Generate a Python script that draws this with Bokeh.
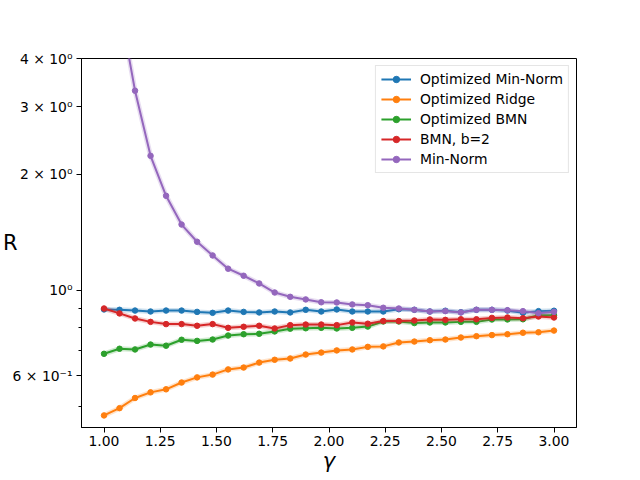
import numpy as np
from bokeh.plotting import figure
from bokeh.models import Range1d, FixedTicker, CustomJSTickFormatter, PrintfTickFormatter
from bokeh.embed import file_html
from bokeh.resources import INLINE

gamma = np.linspace(1.0, 3.0, 30)

opt_min_norm = [0.893, 0.891, 0.887, 0.882, 0.887, 0.887, 0.880, 0.875, 0.887, 0.880,
                0.877, 0.882, 0.877, 0.891, 0.882, 0.893, 0.882, 0.882, 0.882, 0.894,
                0.891, 0.882, 0.886, 0.878, 0.891, 0.891, 0.887, 0.875, 0.884, 0.886]
opt_ridge = [0.474, 0.495, 0.526, 0.544, 0.554, 0.577, 0.595, 0.605, 0.624, 0.631,
             0.650, 0.661, 0.666, 0.682, 0.690, 0.699, 0.703, 0.714, 0.716, 0.733,
             0.737, 0.743, 0.746, 0.755, 0.761, 0.766, 0.770, 0.777, 0.779, 0.787]
opt_bmn = [0.685, 0.706, 0.703, 0.724, 0.719, 0.745, 0.740, 0.746, 0.764, 0.770,
           0.772, 0.783, 0.796, 0.798, 0.800, 0.797, 0.800, 0.806, 0.831, 0.831,
           0.823, 0.826, 0.826, 0.829, 0.829, 0.841, 0.841, 0.842, 0.863, 0.863]
bmn_b2 = [0.898, 0.872, 0.846, 0.829, 0.818, 0.818, 0.810, 0.818, 0.800, 0.805,
          0.810, 0.797, 0.813, 0.816, 0.816, 0.813, 0.826, 0.820, 0.833, 0.833,
          0.836, 0.841, 0.839, 0.842, 0.842, 0.849, 0.851, 0.847, 0.856, 0.851]
min_norm = [30.0, 5.5, 3.30, 2.236, 1.761, 1.483, 1.338, 1.233, 1.139, 1.092,
            1.043, 0.988, 0.963, 0.948, 0.932, 0.931, 0.920, 0.916, 0.902, 0.898,
            0.891, 0.882, 0.884, 0.877, 0.891, 0.891, 0.889, 0.884, 0.873, 0.880]

series = [
    ("Optimized Min-Norm", opt_min_norm, "#1f77b4"),
    ("Optimized Ridge", opt_ridge, "#ff7f0e"),
    ("Optimized BMN", opt_bmn, "#2ca02c"),
    ("BMN, b=2", bmn_b2, "#d62728"),
    ("Min-Norm", min_norm, "#9467bd"),
]

y_major = [0.6, 1.0, 2.0, 3.0, 4.0]
y_minor = [0.5, 0.7, 0.8, 0.9]
x_ticks = [1.0, 1.25, 1.5, 1.75, 2.0, 2.25, 2.5, 2.75, 3.0]

FONT = "DejaVu Sans"

p = figure(width=640, height=480, output_backend="svg", toolbar_location=None,
           y_axis_type="log", x_range=Range1d(0.9, 3.1), y_range=Range1d(0.441, 4.0),
           min_border_left=80, min_border_right=64, min_border_top=58, min_border_bottom=53)
p.background_fill_color = "white"
p.border_fill_color = "white"
p.outline_line_color = "black"
p.outline_line_width = 1
p.xgrid.visible = False
p.ygrid.visible = False

for name, vals, col in series:
    p.line(gamma, vals, line_color=col, line_width=5, line_alpha=0.22)
    p.line(gamma, vals, line_color=col, line_width=2, legend_label=name)
    p.scatter(gamma, vals, size=5.5, fill_color=col, line_color=col, legend_label=name)

xa = p.xaxis[0]
xa.ticker = FixedTicker(ticks=x_ticks)
xa.formatter = PrintfTickFormatter(format="%.2f")
ya = p.yaxis[0]
ya.ticker = FixedTicker(ticks=y_major, minor_ticks=y_minor)
ya.formatter = CustomJSTickFormatter(code="""
if (Math.abs(tick - 1) < 1e-9) { return "10\u2070"; }
if (tick < 1) { return Math.round(tick * 10) + " \u00d7 10\u207b\u00b9"; }
return Math.round(tick) + " \u00d7 10\u2070";
""")
for ax in (xa, ya):
    ax.axis_line_color = "black"
    ax.axis_line_width = 1
    ax.major_tick_line_color = "black"
    ax.minor_tick_line_color = "black"
    ax.major_tick_out = 5
    ax.major_tick_in = 0
    ax.minor_tick_out = 3
    ax.minor_tick_in = 0
    ax.major_label_text_font = FONT
    ax.major_label_text_font_size = "13.9px"
    ax.major_label_text_color = "black"
    ax.major_label_standoff = 4
xa.minor_tick_line_color = None
xa.major_label_standoff = 3

xa.axis_label = "\u03b3"
xa.axis_label_text_font = FONT
xa.axis_label_text_font_style = "italic"
xa.axis_label_text_font_size = "21px"
xa.axis_label_text_color = "black"
xa.axis_label_standoff = 0

ya.axis_label = "R"
ya.axis_label_orientation = "horizontal"
ya.axis_label_text_font = FONT
ya.axis_label_text_font_style = "normal"
ya.axis_label_text_font_size = "21px"
ya.axis_label_text_color = "black"
ya.axis_label_standoff = -8

lg = p.legend[0]
lg.location = "top_right"
lg.margin = 7
lg.padding = 5
lg.spacing = 4
lg.label_height = 16
lg.glyph_height = 16
lg.glyph_width = 30
lg.label_standoff = 9
lg.label_text_font = FONT
lg.label_text_font_size = "13.9px"
lg.label_text_color = "black"
lg.border_line_color = "#cccccc"
lg.border_line_width = 1
lg.background_fill_alpha = 0.8

open("out.html", "w").write(file_html(p, INLINE))
